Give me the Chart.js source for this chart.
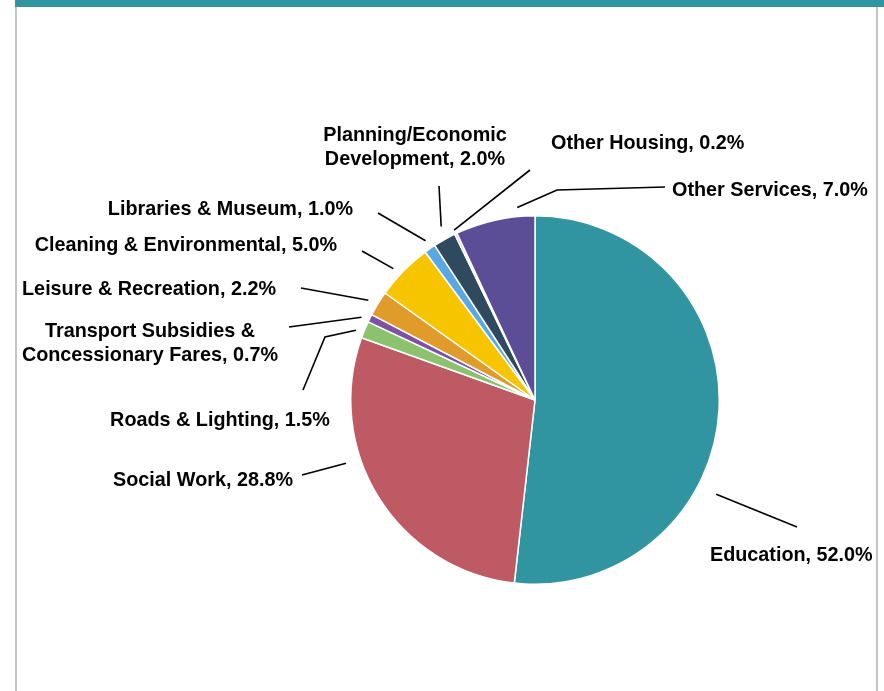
<!DOCTYPE html>
<html>
<head>
<meta charset="utf-8">
<script src="https://cdn.jsdelivr.net/npm/chart.js@4.4.0/dist/chart.umd.min.js"></script>
<style>
  html, body { margin: 0; padding: 0; background: #fff; }
  .frame { position: relative; width: 884px; height: 691px; overflow: hidden; }
  .topbar { position: absolute; left: 15px; top: 0; width: 869px; height: 7px; background: #3194a1; }
  .side { position: absolute; top: 7px; bottom: 0; width: 2px; background: #c4c4c4; }
  canvas { position: absolute; left: 0; top: 0; }
</style>
</head>
<body>
<div class="frame">
  <div class="topbar"></div>
  <div class="side" style="left:15px"></div>
  <div class="side" style="left:876px"></div>
  <canvas id="pie" width="884" height="691"></canvas>
</div>
<script>
// ---- data ----
const categories = [
  'Education', 'Social Work', 'Roads & Lighting', 'Transport Subsidies & Concessionary Fares',
  'Leisure & Recreation', 'Cleaning & Environmental', 'Libraries & Museum',
  'Planning/Economic Development', 'Other Housing', 'Other Services'
];
const shares = [52.0, 28.8, 1.5, 0.7, 2.2, 5.0, 1.0, 2.0, 0.2, 7.0];
const sliceColors = [
  '#3194a1', '#be5a64', '#8cc26e', '#7d52a3', '#e09b2a',
  '#f6c500', '#5aa8e3', '#2f4a5f', '#bfbfbf', '#5b4e96'
];

// label layout: text lines, anchor, alignment, where the leader leaves the slice, and its path
const labelLines = [
  ['Education, 52.0%'],
  ['Social Work, 28.8%'],
  ['Roads & Lighting, 1.5%'],
  ['Transport Subsidies &', 'Concessionary Fares, 0.7%'],
  ['Leisure & Recreation, 2.2%'],
  ['Cleaning & Environmental, 5.0%'],
  ['Libraries & Museum, 1.0%'],
  ['Planning/Economic', 'Development, 2.0%'],
  ['Other Housing, 0.2%'],
  ['Other Services, 7.0%']
];
const labelPos = [
  [710, 556, 'left'], [293, 481, 'right'], [220, 421, 'center'], [150, 332, 'center'],
  [276, 290, 'right'], [337, 246, 'right'], [353, 210, 'right'], [415, 136, 'center'],
  [551, 144, 'left'], [672, 191, 'left']
];
const leaderFrac = [0.63, 0.63, 0.29, 0.16, 0.42, 0.41, 0.58, 0.64, 0.5, 0.79];
const leaderGap = [20, 15, 8, 8, 10, 9, 9, 13, 4, 9];
const leaderPath = [
  [[797, 527]], [[302, 475]], [[325, 337], [303, 390]], [[289, 327]],
  [[301, 288]], [[362, 251]], [[378, 213]], [[439, 186]],
  [[530, 170]], [[557, 190], [665, 187]]
];

const labelPlugin = {
  id: 'pieLabels',
  afterDatasetsDraw(chart) {
    const ctx = chart.ctx;
    const arcs = chart.getDatasetMeta(0).data;
    ctx.save();
    ctx.strokeStyle = '#000';
    ctx.lineWidth = 1.6;
    arcs.forEach((arc, i) => {
      const a = arc.startAngle + (arc.endAngle - arc.startAngle) * leaderFrac[i];
      const r = arc.outerRadius + leaderGap[i];
      ctx.beginPath();
      ctx.moveTo(arc.x + Math.cos(a) * r, arc.y + Math.sin(a) * r);
      leaderPath[i].forEach(p => ctx.lineTo(p[0], p[1]));
      ctx.stroke();
    });
    ctx.fillStyle = '#000';
    ctx.font = 'bold 19.8px "Liberation Sans", Arial, sans-serif';
    ctx.textBaseline = 'middle';
    labelLines.forEach((lines, i) => {
      const [x, y, align] = labelPos[i];
      ctx.textAlign = align;
      lines.forEach((t, k) => ctx.fillText(t, x, y + k * 24));
    });
    ctx.restore();
  }
};

new Chart(document.getElementById('pie'), {
  type: 'pie',
  data: {
    labels: categories,
    datasets: [{
      data: shares,
      backgroundColor: sliceColors,
      borderColor: '#ffffff',
      borderWidth: 1.5
    }]
  },
  options: {
    responsive: false,
    animation: false,
    layout: { padding: { left: 350, right: 164, top: 215, bottom: 106 } },
    plugins: { legend: { display: false }, tooltip: { enabled: false } }
  },
  plugins: [labelPlugin]
});
</script>
</body>
</html>
